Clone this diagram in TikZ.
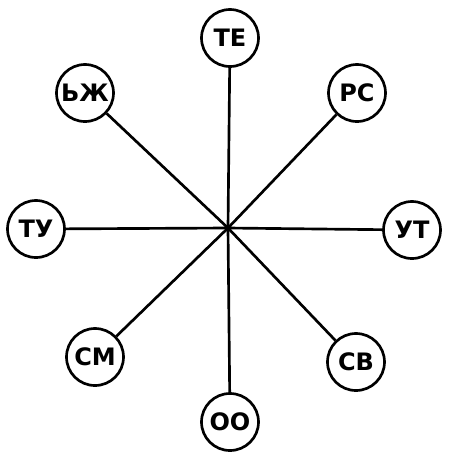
\documentclass[tikz,border=0pt]{standalone}
\usepackage{fontspec}
\setmainfont{DejaVu Sans}
\begin{document}
\begin{tikzpicture}[x=0.75pt,y=-0.75pt,
  lbl/.style={circle,draw,line width=2pt,minimum size=57*0.75pt,inner sep=0pt,fill=white,font=\bfseries\fontsize{18}{18}\selectfont},
  spoke/.style={line width=2pt}]
\useasboundingbox (0,0) rectangle (450,455);
\coordinate (c) at (228,228);
\node[lbl] (te) at (230,38) {ТЕ};
\node[lbl] (rs) at (357,93) {РС};
\node[lbl] (ut) at (412,230) {УТ};
\node[lbl] (sv) at (356,362) {СВ};
\node[lbl] (oo) at (230,422) {ОО};
\node[lbl] (sm) at (95,357) {СМ};
\node[lbl] (tu) at (36,229) {ТУ};
\node[lbl] (bzh) at (85,93) {ЬЖ};
\foreach \n in {te,rs,ut,sv,oo,sm,tu,bzh}
  \draw[spoke] (c) -- (\n);
\end{tikzpicture}
\end{document}
